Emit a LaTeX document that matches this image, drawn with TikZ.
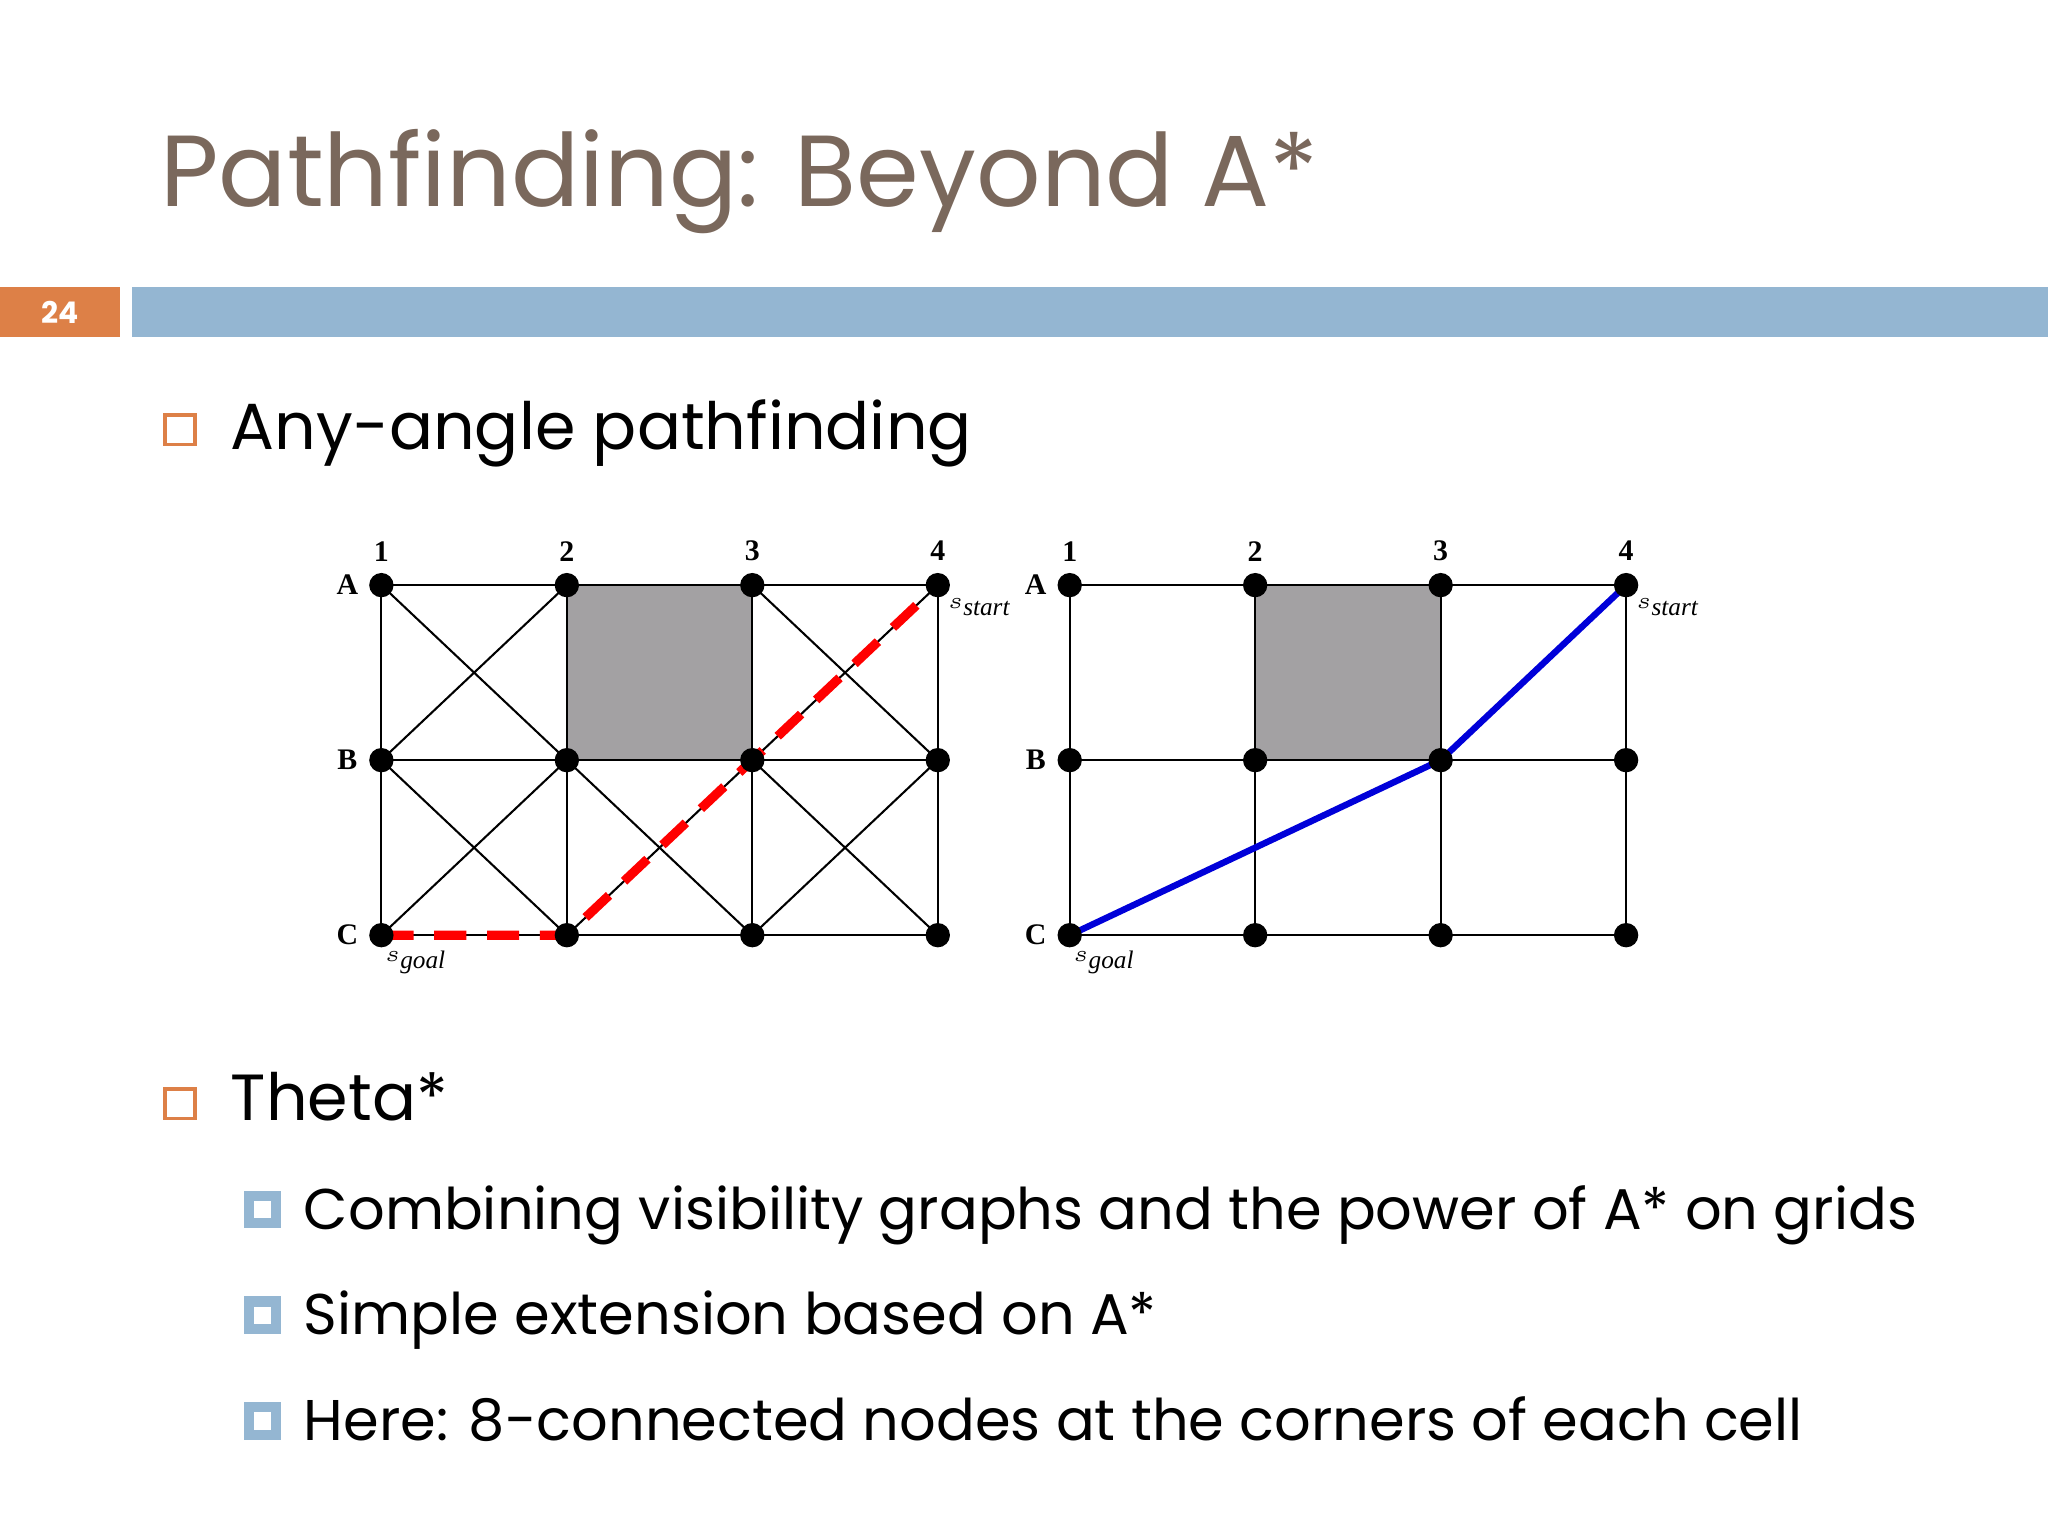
\documentclass[tikz,border=0pt]{standalone}
\usepackage{fontspec}
\setmainfont{Poppins}
\newfontfamily\gridfont{Liberation Serif}
\definecolor{titlec}{RGB}{122,104,92}
\definecolor{barblue}{RGB}{148,182,210}
\definecolor{barorange}{RGB}{221,128,71}
\definecolor{cellgray}{RGB}{163,161,163}
\tikzset{
  dot/.style={circle,fill=black,inner sep=0pt,minimum size=5.3pt},
  gl/.style={draw=black,line width=0.45pt},
  lab/.style={font=\gridfont\bfseries\fontsize{6.5}{7}\selectfont,inner sep=0pt},
  slab/.style={font=\gridfont\itshape\fontsize{5.5}{6}\selectfont,inner sep=0pt,anchor=west},
  bulbox/.style={draw=barorange,line width=0.8pt,minimum size=6.5pt,inner sep=0pt},
  subbox/.style={draw=barblue,fill=white,line width=2.2pt,minimum size=6pt,inner sep=0pt},
  btext/.style={anchor=base west,inner sep=0pt,font=\fontsize{14.2}{16}\selectfont},
  stext/.style={anchor=base west,inner sep=0pt,font=\fontsize{12.5}{14}\selectfont}
}
\begin{document}
\begin{tikzpicture}[x=0.01cm,y=-0.01cm]
\useasboundingbox (0,0) rectangle (1568,1176);
\node[anchor=base west,inner sep=0pt,text=titlec,font=\fontsize{22}{26}\selectfont] (title) at (122,158) {Pathfinding: Beyond A*};
\fill[barorange] (0,220) rectangle (92,258);
\node[text=white,font=\bfseries\fontsize{6.5}{7}\selectfont] (pg) at (46,239) {24};
\fill[barblue] (101,220) rectangle (1568,258);
% bullets
\node[bulbox] (b1) at (138,329) {};
\node[btext] (t1) at (176,344) {Any-angle pathfinding};
\node[bulbox] (b2) at (138,845) {};
\node[btext] (t2) at (176,858) {Theta*};
\node[subbox] (s1) at (201,926) {};
\node[stext] (u1) at (232,941) {Combining visibility graphs and the power of A* on grids};
\node[subbox] (s2) at (201,1007) {};
\node[stext] (u2) at (232,1022) {Simple extension based on A*};
\node[subbox] (s3) at (201,1088) {};
\node[stext] (u3) at (232,1103) {Here: 8-connected nodes at the corners of each cell};
% grids
\fill[cellgray] (434,448) rectangle (576,582);
\foreach \c/\x in {1/292,2/434,3/576,4/718}{
  \foreach \r/\y in {A/448,B/582,C/716}{
    \coordinate (L\r\c) at (\x,\y);
    \coordinate (R\r\c) at (\x+527,\y);
  }
}
\foreach \r in {A,B,C}{\draw[gl] (L\r1)--(L\r4); \draw[gl] (R\r1)--(R\r4);}
\foreach \c in {1,2,3,4}{\draw[gl] (LA\c)--(LC\c); \draw[gl] (RA\c)--(RC\c);}
\foreach \a/\b/\c/\d in {A1/B2/A2/B1, A3/B4/A4/B3, B1/C2/B2/C1, B2/C3/B3/C2, B3/C4/B4/C3}{
  \draw[gl] (L\a)--(L\b); \draw[gl] (L\c)--(L\d);}
\fill[cellgray] (RA2) rectangle (RB3);
\draw[gl] (RA2) rectangle (RB3);
\draw[red,line width=2pt,dash pattern=on 7pt off 4.5pt] (LC1)--(LC2)--(LB3)--(LA4);
\draw[blue!85!black,line width=1.4pt] (RC1)--(RB3)--(RA4);
\foreach \r in {A,B,C}{\foreach \c in {1,2,3,4}{
  \node[dot] (nL\r\c) at (L\r\c) {}; \node[dot] (nR\r\c) at (R\r\c) {};}}
\foreach \s in {L,R}{
  \foreach \c in {1,2,3,4}{\node[lab] (h\s\c) at ([yshift=0.26cm]\s A\c) {\c};}
  \foreach \r in {A,B,C}{\node[lab] (v\s\r) at ([xshift=-0.26cm]\s\r1) {\r};}
  \node[slab] (st\s) at ([xshift=0.07cm,yshift=-0.17cm]\s A4) {$s$\raisebox{-1.5pt}{start}};
  \node[slab] (go\s) at ([xshift=0.02cm,yshift=-0.21cm]\s C1) {$s$\raisebox{-1.5pt}{goal}};
}
\end{tikzpicture}
\end{document}
